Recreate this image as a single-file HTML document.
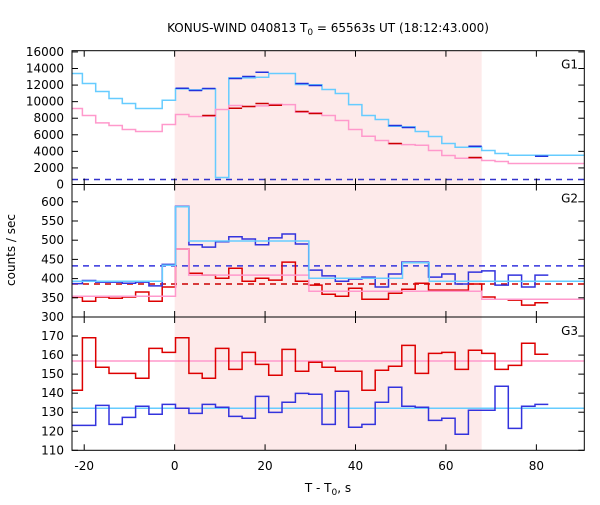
<!DOCTYPE html>
<html><head><meta charset="utf-8"><style>
body{margin:0;background:#fff;font-family:"Liberation Sans",sans-serif}
svg text{font-family:"DejaVu Sans","Liberation Sans",sans-serif;font-size:12px;fill:#000}
</style></head><body>
<svg id="c" width="600" height="500">
<text x="328" y="32" text-anchor="middle">KONUS-WIND 040813 T<tspan font-size="9" dy="3">0</tspan><tspan dy="-3"> = 65563s UT (18:12:43.000)</tspan></text>
<text x="328" y="492" text-anchor="middle">T - T<tspan font-size="9" dy="3">0</tspan><tspan dy="-3">, s</tspan></text>
<text transform="translate(15,250) rotate(-90)" text-anchor="middle">counts / sec</text>
</svg>
<script>
// data
const binWidth = 2.944, binOrigin = 0.2, firstBin = -8;
const g1Cyan = [13400,12190,11220,10380,9775,9170,9170,10170,11540,11420,11540,845,12870,12870,12950,13400,13400,12070,12030,11470,10980,9650,8330,7845,7035,6955,6395,5790,4950,4500,4500,4100,3740,3535];
const g1Pink = [9170,8330,7435,7120,6640,6395,6395,7240,8450,8210,8250,9050,9535,9410,9490,9690,9650,8725,8650,8330,7725,6640,5830,5310,4900,4820,4740,4100,3500,3175,3175,2900,2780,2535];
const g1BlueK = [0,1,2,4,5,6,9,10,16,17,22,27];
const g1BlueV = [11625,11345,11585,12790,13030,13550,12190,11950,7120,6880,4620,3415];
const g1RedK = [2,4,5,6,7,9,10,16,22];
const g1RedV = [8330,9210,9410,9775,9570,8810,8570,4950,3260];
const g1Dash = 600;
const g2Blue = [387,395,391,391,388,391,381,437,588,488,482,496,509,503,488,506,516,490,422,407,393,399,404,378,412,443,443,404,412,386,417,420,383,409,378,409];
const g2Red = [352,341,352,349,352,365,341,378,477,414,409,401,427,393,401,396,443,393,383,359,354,375,346,346,362,372,388,370,370,370,386,352,346,344,331,337];
const g2CyanEdges = [-22.7,-2.7,0.2,3.1,29.7,50.4,56.3,90.6];
const g2CyanVals = [393,435,587,498,401,441,393];
const g2PinkEdges = [-22.7,0.2,3.1,29.7,67.9,90.6];
const g2PinkVals = [354,477,409,367,346];
const g2BlueDash = 433, g2RedDash = 386;
const g3Red = [141.5,169.1,153.6,150.4,150.4,147.8,163.5,161.4,169.1,150.4,147.8,163.5,152.5,161.4,155.1,149.4,163,151.5,156.2,153.6,151.5,151.5,141.5,152,154.1,165.1,150.4,160.9,161.4,152.5,162.5,160.9,152.5,154.6,166.2,160.4];
const g3Blue = [123.1,123.1,133.6,123.6,127.3,133.1,128.9,134.1,132.1,129.4,134.1,132.6,127.8,126.8,138.3,129.9,135.2,139.9,139.4,123.6,141,122.1,123.6,135.2,143.1,133.1,132.6,125.7,126.8,118.4,131,131,143.6,121.5,133.1,134.1];
const g3Pink = 156.9, g3Cyan = 132.1;
const xTicks = [-20,0,20,40,60,80];
const g1Ticks = [0,2000,4000,6000,8000,10000,12000,14000,16000];
const g2Ticks = [300,350,400,450,500,550,600];
const g3Ticks = [110,120,130,140,150,160,170];

const svg = document.getElementById('c');
const NS = 'http://www.w3.org/2000/svg';
const L = 72, R = 584.3, xMin = -22.7, xMax = 90.6;
const X = t => L + (t - xMin) * (R - L) / (xMax - xMin);
const panels = [
 {top:50.7,bot:184.5,lo:0,hi:16150,name:'G1'},
 {top:184.5,bot:317,lo:300,hi:645,name:'G2'},
 {top:317,bot:450.3,lo:110,hi:180,name:'G3'}];
panels.forEach(p => p.Y = v => p.bot - (v - p.lo) * (p.bot - p.top) / (p.hi - p.lo));
function el(tag, attrs, parent){ const e=document.createElementNS(NS,tag); for(const k in attrs) e.setAttribute(k,attrs[k]); (parent||svg).appendChild(e); return e; }
const cl = v => Math.max(xMin, Math.min(xMax, v));
const edge = k => binOrigin + binWidth * k;

let sh = el('rect',{x:X(0),y:50.7,width:X(67.9)-X(0),height:450.3-50.7,fill:'#fdeaea'});



function stepPath(vals, p, extend){
  let d='';
  vals.forEach((v,i)=>{
    const k=firstBin+i; let a=cl(edge(k)), b=cl(edge(k+1));
    if(extend && i===vals.length-1) b=xMax;
    d += (i===0?'M':'L')+X(a).toFixed(1)+','+p.Y(v).toFixed(1)+'L'+X(b).toFixed(1)+','+p.Y(v).toFixed(1);
  });
  return d;
}
function edgePath(edges, vals, p){
  let d='';
  vals.forEach((v,i)=>{ d+=(i===0?'M':'L')+X(edges[i]).toFixed(1)+','+p.Y(v).toFixed(1)+'L'+X(edges[i+1]).toFixed(1)+','+p.Y(v).toFixed(1); });
  return d;
}
function line(d, color, name, dash){
  const e = el('path',{d:d,fill:'none',stroke:color,'stroke-width':1.5});
  if(dash) e.setAttribute('stroke-dasharray',dash);
  
  
  return e;
}
function hline(v,p,color,name,dash){ return line('M'+L+','+p.Y(v)+'L'+R+','+p.Y(v),color,name,dash); }
function segs(ks, vs, p, color, name){
  let d=''; ks.forEach((k,i)=>{ d+='M'+X(cl(edge(k)))+','+p.Y(vs[i])+'L'+X(cl(edge(k+1)))+','+p.Y(vs[i]); });
  return line(d,color,name);
}
const P1=panels[0],P2=panels[1],P3=panels[2];
hline(g1Dash,P1,'#3333cc','g1-background-dashed','6,5');
line(stepPath(g1Cyan,P1,true),'#66ccff','g1-total-cyan');
line(stepPath(g1Pink,P1,true),'#ff99cc','g1-total-pink');
segs(g1BlueK,g1BlueV,P1,'#2233dd','g1-blue-segments');
segs(g1RedK,g1RedV,P1,'#cc0000','g1-red-segments');
hline(g2BlueDash,P2,'#3333dd','g2-blue-dashed','6,5');
hline(g2RedDash,P2,'#cc0000','g2-red-dashed','6,5');
line(stepPath(g2Red,P2,false),'#dd0000','g2-red-series');
line(stepPath(g2Blue,P2,false),'#3333dd','g2-blue-series');
line(edgePath(g2PinkEdges,g2PinkVals,P2),'#ff99cc','g2-pink-series');
line(edgePath(g2CyanEdges,g2CyanVals,P2),'#66ccff','g2-cyan-series');
hline(g3Pink,P3,'#ff99cc','g3-pink-level');
hline(g3Cyan,P3,'#66ccff','g3-cyan-level');
line(stepPath(g3Red,P3,false),'#dd0000','g3-red-series');
line(stepPath(g3Blue,P3,false),'#3333dd','g3-blue-series');

panels.forEach((p,pi)=>{
  const fr = el('rect',{x:L,y:p.top,width:R-L,height:p.bot-p.top,fill:'none',stroke:'#000','stroke-width':1});
  
  
  xTicks.forEach(t=>{
    el('line',{x1:X(t),x2:X(t),y1:p.bot,y2:p.bot-6,stroke:'#000'});
    el('line',{x1:X(t),x2:X(t),y1:p.top,y2:p.top+6,stroke:'#000'});
  });
  const ticks=[g1Ticks,g2Ticks,g3Ticks][pi];
  ticks.forEach(v=>{
    const y=p.Y(v);
    el('line',{x1:L,x2:L+6,y1:y,y2:y,stroke:'#000'});
    el('line',{x1:R,x2:R-6,y1:y,y2:y,stroke:'#000'});
    const tx=el('text',{x:64,y:y+4,'text-anchor':'end'}); tx.textContent=v;
    
    
  });
  const lb=el('text',{x:578,y:p.top+18,'text-anchor':'end'}); lb.textContent=p.name;
  
  
});
xTicks.forEach(t=>{
  const tx=el('text',{x:X(t),y:470,'text-anchor':'middle'}); tx.textContent=t;
  
  
});
</script>
</body></html>
